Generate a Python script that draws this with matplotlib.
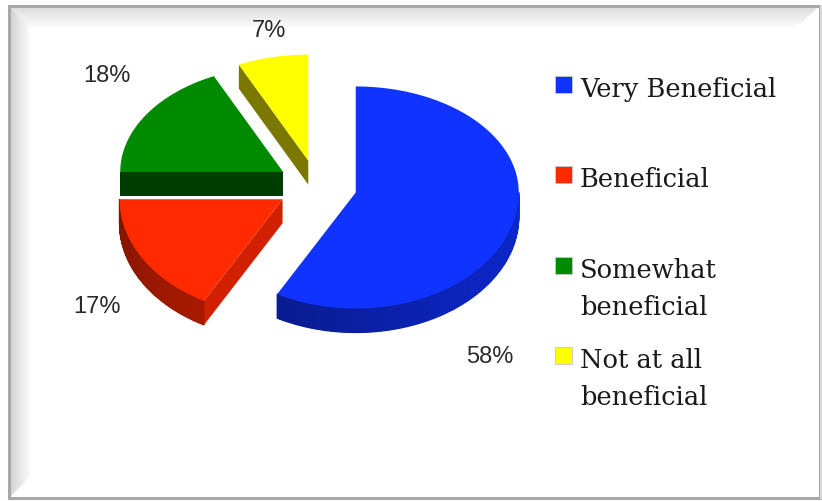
import matplotlib

matplotlib.use("Agg")
import matplotlib.pyplot as plt
import numpy as np
from matplotlib.patches import Polygon, Rectangle
from matplotlib.colors import to_rgb

# survey answers
categories = ["Very Beneficial", "Beneficial", "Somewhat\nbeneficial", "Not at all\nbeneficial"]
shares = [58, 17, 18, 7]
top_colors = ["#1133FF", "#FF2A00", "#008A00", "#FFFF00"]
side_colors = ["#0B22B0", "#D02000", "#003D00", "#7A7800"]

W, H = 822, 501
fig = plt.figure(figsize=(W / 100, H / 100), dpi=100)
ax = fig.add_axes([0, 0, 1, 1])
ax.set_xlim(0, W)
ax.set_ylim(H, 0)
ax.axis("off")

# frame with a bevelled inner edge
def gradient_poly(verts, c0, c1, horizontal):
    poly = Polygon(verts, closed=True, facecolor="none", edgecolor="none")
    ax.add_patch(poly)
    xs = [v[0] for v in verts]
    ys = [v[1] for v in verts]
    g = np.linspace(0, 1, 64)
    grad = g[None, :] if horizontal else g[:, None]
    c0, c1 = np.array(to_rgb(c0)), np.array(to_rgb(c1))
    img = c0 + (c1 - c0) * grad[..., None]
    im = ax.imshow(img, extent=(min(xs), max(xs), max(ys), min(ys)), aspect="auto",
                   interpolation="bilinear", zorder=0.5)
    im.set_clip_path(poly)

gradient_poly([(10, 7), (818, 7), (795, 29), (31, 29)], "#dcdcdc", "#ffffff", False)
gradient_poly([(10, 7), (31, 29), (31, 476), (10, 497)], "#d2d2d2", "#ffffff", True)
ax.add_patch(Rectangle((9, 6), 811, 492, fill=False, edgecolor="#a8a8a8", lw=2.2, zorder=1))
ax.plot([820.5, 820.5], [6, 498], color="#d8d8d8", lw=1.5, zorder=1)

# exploded 3-D pie, angles measured clockwise from 12 o'clock
cx, cy = 317, 186
rx = 163
ry_back, ry_front = 106, 116   # front half drawn a little deeper for perspective
depth = 24
explode = 40

fracs = np.array(shares, dtype=float) / sum(shares)
bounds = np.concatenate([[0], np.cumsum(fracs)]) * 360


def pt(ox, oy, ang):
    a = np.radians(ang)
    c = np.cos(a)
    ry = np.where(c >= 0, ry_back, ry_front)
    return ox + rx * np.sin(a), oy - ry * c


def shade(col, f):
    return tuple(np.clip(np.array(to_rgb(col)) * f, 0, 1))


order = [3, 2, 1, 0]
for k, i in enumerate(order):
    a0, a1 = bounds[i], bounds[i + 1]
    mid = np.radians((a0 + a1) / 2)
    ox = cx + explode * np.sin(mid)
    oy = cy - explode * (ry_back / rx) * np.cos(mid)
    z = 2 + k * 0.1

    # radial face at the start of the slice, visible when it faces down
    if np.cos(np.radians(a0 - 90)) < -0.05:
        p = pt(ox, oy, a0)
        face = [(ox, oy), p, (p[0], p[1] + depth), (ox, oy + depth)]
        ax.add_patch(Polygon(face, closed=True, facecolor=side_colors[i], edgecolor="none", zorder=z))

    # outer wall on the near half
    lo, hi = max(a0, 90), min(a1, 270)
    if hi > lo:
        angs = np.linspace(lo, hi, 120)
        for s, e in zip(angs[:-1], angs[1:]):
            m = np.radians((s + e) / 2)
            f = 0.92 + 0.22 * np.sin(m) - 0.12 * max(0.0, np.cos(m + 0.6))
            col = shade(side_colors[i], f)
            p0, p1 = pt(ox, oy, s), pt(ox, oy, e)
            quad = [p0, p1, (p1[0], p1[1] + depth), (p0[0], p0[1] + depth)]
            ax.add_patch(Polygon(quad, closed=True, facecolor=col, edgecolor=col, lw=0.9, zorder=z))

    # top face
    angs = np.linspace(a0, a1, 160)
    xs, ys = pt(ox, oy, angs)
    verts = [(ox, oy)] + list(zip(xs, ys))
    ax.add_patch(Polygon(verts, closed=True, facecolor=top_colors[i], edgecolor="none", zorder=z + 0.05))

# percentage labels
label_pos = [(490, 357), (97, 307), (107, 76), (269, 31)]
for v, (lx, ly) in zip(shares, label_pos):
    ax.text(lx, ly, f"{v}%", ha="center", va="center", fontsize=17,
            family="Liberation Sans", color="#2a2a2a", zorder=5)

# legend
sq_y = [84, 174, 265, 355]
line_gap = 37
for lab, col, y in zip(categories, top_colors, sq_y):
    ax.add_patch(Rectangle((555, y - 8.5), 17, 17, facecolor=col, edgecolor="#c8c8c8", lw=0.6, zorder=5))
    for j, line in enumerate(lab.split("\n")):
        ax.text(580, y + 13 + j * line_gap, line, ha="left", va="baseline", fontsize=18.5,
                family="DejaVu Serif", color="#1a1a1a", zorder=5)

fig.savefig("out.png", dpi=100, facecolor="white")
